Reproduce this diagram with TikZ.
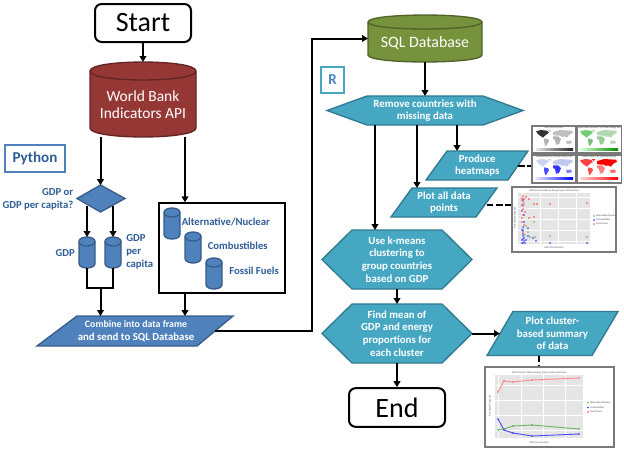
\documentclass[tikz,border=0pt]{standalone}
\usepackage{fontspec}
\setmainfont{Carlito}
\usetikzlibrary{arrows.meta,calc}
\definecolor{tealf}{HTML}{46A7C3}
\definecolor{teald}{HTML}{2F7A90}
\definecolor{bluef}{HTML}{4F81BD}
\definecolor{blued}{HTML}{385D8A}
\definecolor{redf}{HTML}{953735}
\definecolor{redd}{HTML}{632523}
\definecolor{greenf}{HTML}{76923C}
\definecolor{greend}{HTML}{4F6228}
\definecolor{labelblue}{HTML}{2F5D96}
\definecolor{panelg}{HTML}{E5E5E5}
\definecolor{frameg}{HTML}{7A7A7A}
\newcommand\fs[1]{\pgfmathsetmacro\bsk{#1*1.16}\fontsize{#1}{\bsk}\selectfont}
\tikzset{
  x=0.75pt,y=-0.75pt,
  lw/.style={line width=1.5pt},
  arr/.style={lw,draw=black,-{Triangle[length=4.5pt,width=5pt]}},
  plain/.style={lw,draw=black},
  dashline/.style={lw,draw=black,dash pattern=on 5pt off 2pt},
  tealshape/.style={fill=tealf,draw=teald,line width=1pt},
  blueshape/.style={fill=bluef,draw=blued,line width=1pt},
  redshape/.style={fill=redf,draw=redd,line width=1pt},
  greenshape/.style={fill=greenf,draw=greend,line width=1pt},
  boxnode/.style={inner sep=0pt,outer sep=0pt,align=center},
  whitebold/.style={text=white,font=\bfseries\fs{8.1},align=center},
  bluelabel/.style={text=labelblue,font=\bfseries\fs{8},align=center,inner sep=0pt},
  termbox/.style={draw=black,line width=1.5pt,rounded corners=5pt,fill=white,inner sep=0pt,font=\fs{21}},
  frame/.style={draw=frameg,line width=1.2pt,fill=white},
  panel/.style={fill=panelg},
  tiny/.style={font=\fs{1.9},text=black!70,inner sep=0pt},
}
% \cyl[style]{name}{x1}{y1}{x2}{y2}{ry}{text}
\newcommand\cyl[8][blueshape]{%
  \pgfmathsetmacro\ya{#4+#7}\pgfmathsetmacro\yb{#6-#7}\pgfmathsetmacro\kk{1.33*#7}%
  \path[#1] (#3,\ya) -- (#3,\yb) .. controls (#3,\yb+\kk) and (#5,\yb+\kk) .. (#5,\yb) -- (#5,\ya)
     .. controls (#5,\ya-\kk) and (#3,\ya-\kk) .. (#3,\ya) -- cycle;
  \path[#1,fill opacity=0] (#3,\ya) .. controls (#3,\ya+\kk) and (#5,\ya+\kk) .. (#5,\ya);
  \node[boxnode,minimum width=(#5-#3)*0.75pt,minimum height=(#6-#4)*0.75pt] (#2) at ({(#3+#5)/2},{(#4+#6)/2}) {};
  \node[boxnode,text=white] (#2t) at ({(#3+#5)/2},{(#4+#6)/2+#7*0.6}) {#8};
}
% \para[style]{name}{xbl}{xtl}{xtr}{xbr}{y1}{y2}{text}
\newcommand\para[9][tealshape]{%
  \path[#1] (#3,#8) -- (#4,#7) -- (#5,#7) -- (#6,#8) -- cycle;
  \node[boxnode,whitebold,minimum width=((#6+#5)/2-(#3+#4)/2)*0.75pt,minimum height=(#8-#7)*0.75pt] (#2)
     at ({(#3+#4+#5+#6)/4},{(#7+#8)/2}) {#9};
}
% \hexa{name}{xl}{xi}{xj}{xr}{y1}{y2}{text}
\newcommand\hexa[8]{%
  \path[tealshape] (#2,{(#6+#7)/2}) -- (#3,#6) -- (#4,#6) -- (#5,{(#6+#7)/2}) -- (#4,#7) -- (#3,#7) -- cycle;
  \node[boxnode,whitebold,minimum width=(#5-#2)*0.75pt,minimum height=(#7-#6)*0.75pt] (#1)
     at ({(#2+#5)/2},{(#6+#7)/2}) {#8};
}
% \worldmap{x}{y}{na}{sa}{eu}{af}{au}
\newcommand\worldmap[7]{%
  \begin{scope}[shift={(#1,#2)},yscale=.7]
    \fill[#3] (0,2)--(5,0)--(11,1)--(13,4)--(9,8)--(7,11)--(5,9)--(2,6)--cycle;
    \fill[#5] (12,0)--(15,0)--(14,3)--cycle;
    \fill[#4] (8,12)--(12,13)--(13,16)--(10,23)--(9,22)--(8,16)--cycle;
    \fill[#5] (17,3)--(24,0)--(36,1)--(37,4)--(33,7)--(31,11)--(28,9)--(26,10)--(24,8)--(20,8)--(17,7)--cycle;
    \fill[#6] (17,9)--(22,9)--(25,13)--(23,20)--(20,21)--(19,14)--(17,13)--cycle;
    \fill[#7] (30,16)--(35,15)--(36,19)--(31,20)--cycle;
  \end{scope}%
}
\begin{document}
\begin{tikzpicture}
\useasboundingbox (0,0) rectangle (624,451);
\fill[white] (0,0) rectangle (624,451);

% helper x positions
\coordinate (xapi) at (185,0);
\coordinate (xkm) at (375,0);
\coordinate (xplot) at (417,0);
\coordinate (xheat) at (457,0);
\coordinate (xturn) at (312,0);
\coordinate (xsum) at (539,0);
\coordinate (ymerge) at (0,288);

% terminals
\node[termbox,minimum width=72pt,minimum height=28.5pt] (start) at (143,23) {Start};
\node[termbox,minimum width=72pt,minimum height=29pt] (end) at (397,407.5) {End};

% databases
\cyl[redshape]{wb}{90}{62}{196}{137}{9}{\fs{11.6}\shortstack{World Bank\\[1.5pt]Indicators API}}
\cyl[greenshape]{sql}{368}{15}{482}{62}{7}{\fs{11.9}SQL Database}

% language tags
\node[draw=bluef,line width=1.2pt,fill=white,minimum width=45pt,minimum height=20pt,inner sep=0pt,text=labelblue,font=\bfseries\fs{11.3}] (py) at (35,158.5) {Python};
\node[draw=tealf,line width=1.2pt,fill=white,minimum width=17pt,minimum height=19.5pt,inner sep=0pt,text=bluef,font=\bfseries\fs{11.3}] (rr) at (332.5,80) {R};

% left branch
\path[blueshape] (77,198.5) -- (100.5,185) -- (125,198.5) -- (100.5,212) -- cycle;
\node[boxnode,minimum width=36pt,minimum height=20pt] (dec) at (100.5,198.5) {};
\node[bluelabel,anchor=east,align=right] (declabel) at (73.5,199) {GDP or\\[.4pt]GDP per capita?};

\cyl{gdp}{79}{237}{95}{268}{4.5}{}
\cyl{cap}{105}{237}{121}{268}{4.5}{}
\node[bluelabel,anchor=east] (gdplabel) at (75,253) {GDP};
\node[bluelabel,anchor=west,align=left] (caplabel) at (126,252) {GDP\\[.3pt]per\\[.3pt]capita};

\node[draw=black,line width=1.5pt,fill=white,minimum width=94pt,minimum height=67pt,inner sep=0pt] (src) at (222,248) {};
\cyl{alt}{164}{208}{180}{239}{4.5}{}
\cyl{com}{185}{232}{201}{263}{4.5}{}
\cyl{fos}{206}{258}{222}{289}{4.5}{}
\node[bluelabel,anchor=west] (altl) at (181.5,222) {Alternative/Nuclear};
\node[bluelabel,anchor=west] (coml) at (207.5,246) {Combustibles};
\node[bluelabel,anchor=west] (fosl) at (229,271) {Fossil Fuels};

\para[blueshape]{comb}{37}{77}{233}{197}{316}{346}{\fs{7.4}Combine into data frame\\and send to SQL Database}

\draw[arr] (start) -- (wb);
\draw[arr] (wb.south -| dec.north) -- (dec.north);
\draw[arr] (wb.south -| xapi) -- (src.north -| xapi);
\draw[arr] (gdp.north |- dec.south) ++(0,-6) -- (gdp.north);
\draw[arr] (cap.north |- dec.south) ++(0,-6) -- (cap.north);
\draw[plain] (gdp.south) |- (ymerge -| cap.south) -- (cap.south);
\draw[arr] (ymerge -| dec.south) -- (comb.north -| dec.south);
\draw[arr] (src.south -| xapi) -- (comb.north -| xapi);
\draw[arr] (comb.east) -- (comb.east -| xturn) -- (sql.west -| xturn) -- (sql.west);

% R branch
\hexa{rem}{327}{367}{483}{523}{96}{125}{Remove countries with\\missing data}
\para{heat}{426}{447}{528}{508}{151}{180}{Produce\\heatmaps}
\para{plotall}{391}{412}{497}{476}{188}{217}{Plot all data\\points}
\hexa{km}{322}{352}{442}{472}{230}{289}{Use k-means\\clustering to\\group countries\\based on GDP}
\hexa{fm}{322}{352}{442}{472}{304}{363}{Find mean of\\GDP and energy\\proportions for\\each cluster}
\para{clus}{487}{513}{618}{592}{311.5}{355.5}{Plot cluster-\\based summary\\of data}

\draw[arr] (sql.south) -- (rem.north);
\draw[arr] (rem.south -| xheat) -- (heat.north -| xheat);
\draw[arr] (rem.south -| xplot) -- (plotall.north -| xplot);
\draw[arr] (rem.south -| xkm) -- (km.north -| xkm);
\draw[arr] (km.south) -- (fm.north);
\draw[arr] (fm.south) -- (end.north);
\draw[arr] (fm.east) -- (clus.west);

% heatmap thumbnails
\node[frame,minimum width=33pt,minimum height=20.5pt,inner sep=0pt] (m1) at (554,139.5) {};
\node[frame,minimum width=33pt,minimum height=20.5pt,inner sep=0pt] (m2) at (599.5,139.5) {};
\node[frame,minimum width=33pt,minimum height=21pt,inner sep=0pt] (m3) at (554,169) {};
\node[frame,minimum width=33pt,minimum height=21pt,inner sep=0pt] (m4) at (599.5,169) {};
\worldmap{536}{130}{black!80}{black!30}{black!25}{black!30}{black!25}
\worldmap{580}{130}{green!65!black!55}{green!50!black!50}{green!50!black!30}{green!50!black!40}{green!45!black!30}
\worldmap{536}{159}{cyan!40!blue!20}{blue!70}{cyan!40!blue!25}{blue!80}{blue!50}
\worldmap{580}{159}{red!75}{red!70}{red}{red!50}{red!60}
\shade[left color=black!10,right color=black!85] (536,148) rectangle (573,150.5);
\shade[left color=green!15,right color=green!55!black] (580,148) rectangle (618,150.5);
\shade[left color=blue!10,right color=blue] (536,177) rectangle (573,179.5);
\shade[left color=red!15,right color=red] (580,177) rectangle (618,179.5);
\node[tiny] (t1) at (554,127.5) {GDP (Current US\$)};
\node[tiny] (t2) at (599.5,127.5) {Alternative/Nuclear \% of total energy use};
\node[tiny] (t3) at (554,156.8) {Combustibles \% of total energy use};
\node[tiny] (t4) at (599.5,156.8) {Fossil Fuels \% of total energy use};
\draw[dashline] (heat.east) -- (m3.west |- heat.east);

% scatter thumbnail
\node[frame,minimum width=78pt,minimum height=48.5pt,inner sep=0pt] (sc) at (564,219.5) {};
\fill[panel] (518,193) rectangle (590,244);
\foreach \gx in {522,540,558,576}{\draw[white,line width=.2pt] (\gx,193) -- (\gx,244);}
\foreach \gy in {197,208,219,230,241}{\draw[white,line width=.2pt] (518,\gy) -- (590,\gy);}
\foreach \p in {(534,222),(528,232),(530,237),(535,237),(550,236),(587,237),(526,226),(523,229),(525,235)}{\fill[green!60!black!70] \p circle (.8);}
\foreach \p in {(522,205),(524,215),(523,227),(528,228),(523,234),(522,240),(523,243),(524,238),(526,240),(533,238),(536,241),(587,243),(550,243),(528,236),(522,230),(523,236),(524,241),(522,243),(525,243),(523,200),(522,211),(524,222),(523,231),(523,239)}{\fill[blue!85] \p circle (.8);}
\foreach \p in {(523,196),(524,199),(523,202),(526,197),(529,199),(534,204),(537,204),(550,204),(587,203),(522,198),(523,209),(525,212),(529,218),(534,217),(523,215),(522,222),(524,225),(522,200),(524,204),(523,206),(522,218),(523,233)}{\fill[red!75] \p circle (.8);}
\node[tiny] (sct) at (554,191) {GDP (Current US\$) by Energy Type: All Countries};
\node[tiny] (scx) at (554,248) {GDP (Current US\$)};
\node[tiny,rotate=90] (scy) at (515,218) {\% of total energy use};
\fill[green!60!black!70] (594,216) circle (.8);
\fill[blue!85] (594,220) circle (.8);
\fill[red!75] (594,224) circle (.8);
\node[tiny,anchor=west] (scl1) at (596,216) {Alternative/Nuclear};
\node[tiny,anchor=west] (scl2) at (596,220) {Combustibles};
\node[tiny,anchor=west] (scl3) at (596,224) {Fossil Fuels};
\draw[dashline] ([yshift=-1.5pt]plotall.east) -- ([yshift=-1.5pt]plotall.east -| sc.west);

% summary thumbnail
\node[frame,minimum width=96.75pt,minimum height=60pt,inner sep=0pt] (sm) at (549.5,407) {};
\fill[panel] (495,375) rectangle (583,438);
\foreach \gx in {498,521,543,565}{\draw[white,line width=.2pt] (\gx,375) -- (\gx,438);}
\foreach \gy in {385,400,415,430}{\draw[white,line width=.2pt] (495,\gy) -- (583,\gy);}
\draw[red!45,line width=.7pt] (498,392) -- (504,381) -- (513,382) -- (532,380) -- (579,378);
\draw[green!55!black!60,line width=.7pt] (498,430) -- (504,429) -- (513,426) -- (532,425) -- (579,429);
\draw[blue!70,line width=.7pt] (498,419) -- (504,430) -- (513,433) -- (532,436) -- (579,434);
\foreach \p in {(498,392),(504,381),(513,382),(532,380),(579,378)}{\fill[red!60] \p circle (.8);}
\foreach \p in {(498,430),(504,429),(513,426),(532,425),(579,429)}{\fill[green!50!black!70] \p circle (.8);}
\foreach \p in {(498,419),(504,430),(513,433),(532,436),(579,434)}{\fill[blue!80] \p circle (.8);}
\node[tiny] (smt) at (539,372.5) {GDP (Current US\$) by Energy Type: Cluster Summary};
\node[tiny] (smx) at (539,442.5) {GDP (Current US\$)};
\node[tiny,rotate=90] (smy) at (490,406) {\% of total energy use};
\fill[green!60!black!70] (588,402.5) circle (.8);
\fill[blue!85] (588,407.5) circle (.8);
\fill[red!75] (588,412) circle (.8);
\node[tiny,anchor=west] (sml1) at (590,402.5) {Alternative/Nuclear};
\node[tiny,anchor=west] (sml2) at (590,407.5) {Combustibles};
\node[tiny,anchor=west] (sml3) at (590,412) {Fossil Fuels};
\draw[dashline] (clus.south -| xsum) -- (sm.north -| xsum);
\end{tikzpicture}
\end{document}
